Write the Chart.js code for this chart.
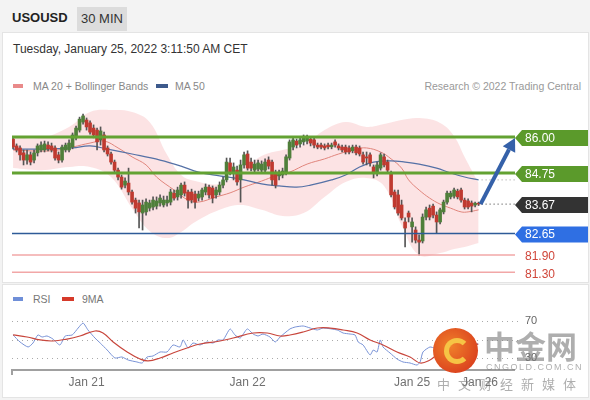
<!DOCTYPE html>
<html>
<head>
<meta charset="utf-8">
<script src="https://cdn.jsdelivr.net/npm/chart.js@4.4.1/dist/chart.umd.min.js"></script>
<style>
  body { margin: 0; width: 590px; height: 400px; background: #f3f3f3; font-family: "Liberation Sans", Arial, sans-serif; position: relative; overflow: hidden; }
  .abs { position: absolute; white-space: nowrap; }
  .panel { background: #fff; border: 1px solid #e4e4e4; }
  .sym { left: 12px; top: 10px; font-weight: bold; font-size: 13px; color: #222; }
  .tf { left: 77px; top: 7px; width: 50px; height: 24px; line-height: 24px; background: #dcdcdc; font-size: 13px; color: #333; text-align: center; }
  .date { left: 13px; top: 42px; font-size: 12px; color: #333; }
  .leg { font-size: 10.5px; color: #888; }
  .sw { width: 10px; height: 4px; }
  .wm { color: rgba(120,120,120,0.6); font-family: "Noto Sans CJK SC", sans-serif; }
</style>
</head>
<body>
<div class="abs panel" style="left:2px;top:32px;width:585px;height:249px"></div>
<div class="abs panel" style="left:2px;top:284px;width:585px;height:112px"></div>

<div class="abs sym">USOUSD</div>
<div class="abs tf">30 MIN</div>
<div class="abs date">Tuesday, January 25, 2022 3:11:50 AM CET</div>

<div class="abs sw" style="left:13px;top:84px;background:#e98a8a"></div>
<div class="abs leg" style="left:33px;top:80px">MA 20 + Bollinger Bands</div>
<div class="abs sw" style="left:156px;top:84px;width:12px;background:#3d5a8c"></div>
<div class="abs leg" style="left:175px;top:80px">MA 50</div>
<div class="abs leg" style="right:9px;top:80px;color:#999">Research © 2022 Trading Central</div>

<div class="abs sw" style="left:13px;top:297px;background:#6f8fd8"></div>
<div class="abs leg" style="left:33px;top:293px;color:#777">RSI</div>
<div class="abs sw" style="left:62px;top:297px;width:12px;background:#d63a2a"></div>
<div class="abs leg" style="left:82px;top:293px;color:#777">9MA</div>

<canvas id="priceChart" class="abs" style="left:0;top:100px" width="590" height="180"></canvas>
<canvas id="rsiChart" class="abs" style="left:0;top:290px" width="590" height="110"></canvas>

<!-- watermark -->
<div class="abs" style="left:433px;top:328px;width:45px;height:45px;border-radius:50%;background:radial-gradient(circle at 40% 40%, #f0802a, #d42e1a)"></div>
<div class="abs" style="left:444px;top:338px;width:16px;height:16px;border:5px solid #f6c445;border-right-color:transparent;border-radius:50%"></div>
<div class="abs wm" style="left:484px;top:322px;font-size:31px;font-weight:bold">中金网</div>
<div class="abs wm" style="left:486px;top:362px;font-size:9px;letter-spacing:1.5px;font-family:'Liberation Sans',Arial">CNGOLD.COM.CN</div>
<div class="abs wm" style="left:437px;top:374px;font-size:13px;letter-spacing:8px">中文财经新媒体</div>

<script>
'use strict';

// 30 min candles, oldest first
var opens = [
  85.93, 85.69, 85.62, 85.45, 85.20, 85.38, 85.20, 85.45, 85.55, 85.55,
  85.72, 85.69, 85.62, 85.38, 85.20, 85.55, 85.55, 85.65, 85.97, 86.24,
  86.52, 86.59, 86.49, 86.31, 86.24, 85.90, 86.07, 85.62, 85.41, 85.13,
  84.85, 84.61, 84.33, 84.40, 84.09, 83.81, 83.71, 83.36, 83.40, 83.53,
  83.57, 83.60, 83.71, 83.64, 83.71, 83.74, 84.05, 83.92, 83.99, 84.33,
  84.09, 84.09, 84.02, 83.88, 83.92, 84.09, 84.26, 84.23, 83.99, 84.09,
  84.33, 84.51, 85.10, 84.75, 84.85, 84.51, 85.03, 85.41, 85.13, 84.85,
  84.89, 84.85, 84.85, 85.20, 85.13, 84.78, 84.65, 84.68, 84.78, 85.27,
  85.65, 85.86, 85.76, 85.83, 85.86, 85.93, 85.90, 85.72, 85.72, 85.69,
  85.72, 85.66, 85.83, 85.69, 85.65, 85.65, 85.62, 85.52, 85.65, 85.62,
  85.38, 85.31, 85.38, 84.96, 84.75, 84.92, 85.31, 85.13, 84.75, 84.09,
  83.99, 83.64, 83.05, 83.36, 82.88, 82.77, 82.42, 82.39, 83.22, 83.53,
  83.60, 83.29, 83.05, 83.40, 83.74, 83.92, 83.95, 84.12, 84.16, 83.81,
  83.78, 83.71, 83.64, 83.70
];
var highs = [
  86.00, 85.76, 85.69, 85.55, 85.55, 85.48, 85.55, 85.76, 85.83, 85.86,
  85.83, 85.79, 85.69, 85.48, 85.72, 85.79, 85.90, 86.14, 86.38, 86.69,
  86.80, 86.66, 86.56, 86.42, 86.31, 86.35, 86.17, 85.69, 85.48, 85.20,
  84.92, 84.68, 84.58, 84.92, 84.16, 83.88, 83.81, 83.81, 83.85, 83.81,
  83.92, 83.92, 83.99, 83.95, 83.95, 84.19, 84.16, 84.26, 84.40, 84.44,
  84.16, 84.19, 84.12, 84.12, 84.23, 84.37, 84.33, 84.30, 84.26, 84.44,
  84.61, 85.27, 85.27, 85.10, 84.99, 85.20, 85.48, 85.52, 85.27, 85.20,
  85.20, 85.17, 85.24, 85.31, 85.20, 84.85, 84.85, 84.92, 85.38, 85.90,
  85.97, 85.93, 85.97, 86.07, 86.07, 86.00, 85.97, 85.79, 85.79, 85.76,
  85.79, 85.79, 85.90, 85.76, 85.72, 85.72, 85.69, 85.72, 85.72, 85.69,
  85.48, 85.48, 85.45, 85.03, 85.13, 85.45, 85.41, 85.20, 84.82, 84.16,
  84.16, 83.81, 83.19, 83.43, 83.19, 82.88, 82.60, 83.33, 83.57, 83.64,
  83.67, 83.40, 83.53, 83.81, 84.12, 84.12, 84.23, 84.19, 84.23, 83.88,
  83.85, 83.78, 83.74, 83.74
];
var lows = [
  85.59, 85.48, 85.20, 85.03, 85.06, 85.03, 85.10, 85.34, 85.48, 85.48,
  85.52, 85.48, 85.20, 85.10, 85.13, 85.48, 85.48, 85.59, 85.90, 86.17,
  86.45, 86.24, 86.10, 85.97, 85.55, 85.72, 85.48, 85.34, 85.06, 84.78,
  84.51, 84.19, 84.23, 83.99, 83.67, 83.36, 82.84, 82.77, 83.29, 83.43,
  83.47, 83.50, 83.60, 83.57, 83.60, 83.64, 83.81, 83.81, 83.88, 83.95,
  83.53, 83.71, 83.53, 83.78, 83.81, 83.99, 83.88, 83.71, 83.88, 83.99,
  84.23, 84.44, 84.68, 84.51, 84.33, 83.74, 84.92, 84.85, 84.82, 84.78,
  84.82, 84.78, 84.78, 84.89, 84.33, 84.23, 84.51, 84.58, 84.68, 85.20,
  85.55, 85.62, 85.65, 85.72, 85.76, 85.69, 85.62, 85.59, 85.59, 85.55,
  85.59, 85.59, 85.65, 85.55, 85.48, 85.41, 85.41, 85.45, 85.38, 85.34,
  85.06, 85.03, 84.99, 84.58, 84.65, 84.85, 84.96, 84.78, 83.92, 83.50,
  83.29, 83.12, 82.18, 83.05, 82.35, 82.32, 81.90, 82.32, 83.12, 83.12,
  83.19, 82.67, 82.98, 83.33, 83.67, 83.85, 83.88, 83.85, 83.74, 83.50,
  83.50, 83.40, 83.57, 83.62
];
var closes = [
  85.65, 85.55, 85.38, 85.20, 85.38, 85.13, 85.45, 85.69, 85.72, 85.76,
  85.59, 85.55, 85.27, 85.20, 85.65, 85.72, 85.79, 86.07, 86.31, 86.62,
  86.73, 86.35, 86.17, 86.07, 85.83, 86.21, 85.55, 85.41, 85.13, 84.85,
  84.61, 84.26, 84.47, 84.09, 83.74, 83.53, 83.40, 83.64, 83.74, 83.71,
  83.81, 83.78, 83.88, 83.81, 83.81, 84.09, 83.88, 84.16, 84.33, 84.05,
  83.81, 83.81, 83.74, 84.02, 84.16, 84.26, 83.99, 83.88, 84.16, 84.33,
  84.51, 85.13, 84.78, 84.96, 84.44, 85.03, 85.38, 84.92, 84.92, 85.06,
  85.10, 85.06, 85.13, 84.99, 84.51, 84.33, 84.78, 84.82, 85.31, 85.83,
  85.90, 85.72, 85.90, 86.00, 86.00, 85.79, 85.72, 85.65, 85.65, 85.62,
  85.66, 85.72, 85.72, 85.62, 85.55, 85.48, 85.48, 85.65, 85.45, 85.41,
  85.13, 85.27, 85.10, 84.75, 85.03, 85.38, 85.03, 84.85, 83.99, 83.57,
  83.36, 83.19, 82.84, 83.22, 83.05, 82.42, 82.35, 83.22, 83.47, 83.22,
  83.29, 83.05, 83.47, 83.74, 84.05, 84.05, 84.16, 83.92, 83.81, 83.57,
  83.57, 83.60, 83.70, 83.67
];

// moving averages at a few candles
var ma20Idx = [0, 8, 13, 17, 22, 26, 30, 34, 38, 41, 46, 50, 53, 58, 62, 66, 71, 75, 79, 84, 89, 93, 98, 101, 105, 108, 111, 113, 116, 119, 122, 125, 128, 130, 133];
var ma20 = [85.55, 85.51, 85.55, 85.65, 85.79, 85.86, 85.62, 85.31, 85.03, 84.61, 84.16, 83.81, 83.74, 83.92, 84.06, 84.26, 84.47, 84.65, 84.78, 85.06, 85.24, 85.41, 85.58, 85.62, 85.48, 85.24, 84.92, 84.51, 84.16, 83.88, 83.67, 83.53, 83.40, 83.40, 83.47];
var ma50Idx = [0, 8, 17, 22, 27, 34, 42, 48, 53, 59, 65, 71, 76, 81, 85, 91, 95, 99, 103, 108, 112, 116, 121, 125, 129, 133];
var ma50 = [85.58, 85.58, 85.62, 85.69, 85.58, 85.41, 85.20, 84.99, 84.78, 84.65, 84.54, 84.37, 84.30, 84.26, 84.33, 84.51, 84.68, 84.96, 85.13, 85.17, 85.13, 85.06, 84.92, 84.75, 84.61, 84.51];
var bandIdx = [0, 8, 16, 22, 28, 34, 39, 44, 48, 52, 59, 65, 71, 77, 83, 89, 95, 101, 106, 111, 116, 122, 126, 129, 133];
var bandUpper = [86.00, 85.97, 86.35, 86.87, 86.94, 86.87, 86.52, 85.38, 84.68, 84.47, 84.37, 84.78, 85.34, 85.55, 85.72, 86.24, 86.52, 86.35, 86.45, 86.59, 86.66, 86.49, 86.03, 85.31, 84.40];
var bandLower = [84.92, 84.85, 84.96, 84.96, 84.61, 83.53, 82.74, 82.49, 82.70, 83.05, 83.47, 83.64, 83.47, 83.26, 83.36, 83.92, 84.44, 84.58, 84.30, 82.94, 81.90, 81.97, 82.11, 82.18, 82.32];

// key levels
var resistances = [86.00, 84.75];
var pivot = 82.65;
var supports = [81.90, 81.30];

// RSI panel
var rsiIdx = [0, 2, 4.3, 5.7, 7.1, 8.3, 9.7, 11.4, 13.4, 14.9, 16.9, 18.6, 20, 21.4, 23.4, 24.9, 26.9, 29.1, 31.1, 32.9, 35.4, 36.9, 38.3, 40, 42, 44, 45.7, 47.7, 48.6, 50, 51.4, 53.4, 55.4, 57.1, 58.6, 60, 62, 63.4, 64.9, 66.9, 68.6, 70, 71.4, 73.4, 74.9, 76.3, 79.1, 80.6, 82.9, 84.9, 86.9, 88.6, 92.6, 94.3, 96.3, 97.7, 98.6, 100, 102, 102.9, 104, 104.9, 105.7, 107.7, 109.7, 111.4, 113.4, 115.4, 116.3, 117.1, 119.1, 120.6, 122.6, 124.9, 127.1, 129.1, 131.1, 132.9];
var rsi = [54.9, 47.3, 41.9, 46.2, 54.9, 52.7, 53.8, 50.5, 44.1, 53.8, 54.9, 62.4, 67.8, 60.3, 51.6, 46.2, 38.6, 30.0, 31.1, 27.8, 25.7, 24.6, 31.1, 32.2, 36.5, 36.5, 44.1, 41.9, 49.5, 40.8, 46.2, 44.1, 47.3, 46.2, 49.5, 49.5, 61.4, 54.9, 51.6, 61.4, 55.9, 53.8, 55.9, 52.7, 47.3, 52.7, 61.4, 63.5, 64.6, 62.4, 60.3, 62.4, 60.3, 57.0, 55.9, 54.9, 47.3, 44.1, 33.2, 38.6, 36.5, 49.5, 41.9, 35.4, 28.9, 25.7, 24.6, 22.4, 25.7, 36.5, 41.9, 40.8, 46.2, 53.8, 54.9, 49.5, 46.2, 45.1];
var rsiMaIdx = [0, 4, 7.7, 11.4, 15.4, 19.1, 23.4, 25.7, 28.6, 32.6, 36.3, 38.6, 42, 45.7, 49.7, 53.4, 59.1, 62.9, 68.6, 72.6, 76.3, 79.1, 82.9, 86.9, 90.6, 94.3, 98.3, 102, 105.7, 109.7, 113.4, 116.3, 119.1, 121.1, 124.9, 129.1, 132.9];
var rsiMa = [54.9, 52.7, 49.5, 48.4, 50.5, 53.8, 59.2, 57.0, 47.3, 36.5, 28.9, 26.8, 30.0, 35.4, 40.8, 45.1, 48.4, 51.6, 57.0, 57.0, 53.8, 54.9, 58.1, 62.4, 62.4, 60.3, 57.0, 49.5, 44.1, 36.5, 31.1, 24.6, 27.8, 33.2, 38.6, 43.0, 45.1];
var rsiLevels = [70, 50, 30];
var rsiLabels = [70, 30];

// x axis
var dayLabels = ['Jan 21', 'Jan 22', 'Jan 25', 'Jan 26'];
var dayIdx = [21, 67, 114, 133.4];

var GREEN = '#4f7f3a';
var RED = '#bf3a30';

function pts(xs, ys) {
  return xs.map(function (x, i) { return { x: x, y: ys[i] }; });
}

var xScale = { type: 'linear', display: false, min: -0.3, max: 143.4, offset: false };
var pad = { left: 12, right: 75 };

// tag on the right, pointing left
function tag(ctx, x0, x1, yy, color, text) {
  ctx.beginPath();
  ctx.moveTo(x0, yy);
  ctx.lineTo(x0 + 7, yy - 8);
  ctx.lineTo(x1, yy - 8);
  ctx.lineTo(x1, yy + 8);
  ctx.lineTo(x0 + 7, yy + 8);
  ctx.closePath();
  ctx.fillStyle = color;
  ctx.fill();
  ctx.fillStyle = '#fff';
  ctx.fillText(text, x0 + 10, yy + 0.5);
}

var levelsPlugin = {
  id: 'levels',
  afterDatasetsDraw: function (chart) {
    var ctx = chart.ctx, a = chart.chartArea, x = chart.scales.x, y = chart.scales.y;
    var last = closes.length - 1;
    var lastX = x.getPixelForValue(last);
    ctx.save();
    ctx.font = '12px "Liberation Sans", Arial';
    ctx.textBaseline = 'middle';

    // dotted extensions
    ctx.setLineDash([1, 3]);
    ctx.lineWidth = 1;
    ctx.strokeStyle = '#999';
    var m = y.getPixelForValue(ma50[ma50.length - 1]);
    ctx.beginPath(); ctx.moveTo(lastX + 3, m); ctx.lineTo(a.right, m); ctx.stroke();
    ctx.strokeStyle = '#333';
    var c = y.getPixelForValue(closes[last]);
    ctx.beginPath(); ctx.moveTo(lastX + 3, c); ctx.lineTo(a.right, c); ctx.stroke();
    ctx.setLineDash([]);

    // resistances
    resistances.forEach(function (v) {
      var p = y.getPixelForValue(v);
      ctx.strokeStyle = '#63a232';
      ctx.lineWidth = 3;
      ctx.beginPath(); ctx.moveTo(a.left, p); ctx.lineTo(a.right, p); ctx.stroke();
      tag(ctx, a.right, 588, p + 1, '#5b9a2b', v.toFixed(2));
    });

    // pivot
    var pp = y.getPixelForValue(pivot);
    ctx.strokeStyle = '#2e5b98';
    ctx.lineWidth = 1.5;
    ctx.beginPath(); ctx.moveTo(a.left, pp); ctx.lineTo(a.right, pp); ctx.stroke();
    tag(ctx, a.right, 588, pp + 1, '#2f6fe3', pivot.toFixed(2));

    // supports
    supports.forEach(function (v) {
      var p = y.getPixelForValue(v);
      ctx.strokeStyle = '#f2a7a7';
      ctx.lineWidth = 1.5;
      ctx.beginPath(); ctx.moveTo(a.left, p); ctx.lineTo(a.right, p); ctx.stroke();
      ctx.fillStyle = '#d0463a';
      ctx.fillText(v.toFixed(2), a.right + 10, p + 2);
    });

    // last price
    tag(ctx, a.right, 588, c + 1, '#333333', closes[last].toFixed(2));

    // arrow to the first target
    var tx = a.right, ty = y.getPixelForValue(resistances[0]) + 1;
    var sx = lastX + 2, sy = c;
    var ang = Math.atan2(ty - sy, tx - sx);
    var hx = tx - 13 * Math.cos(ang), hy = ty - 13 * Math.sin(ang);
    ctx.strokeStyle = '#3561a9';
    ctx.fillStyle = '#3561a9';
    ctx.lineWidth = 4;
    ctx.beginPath(); ctx.moveTo(sx, sy); ctx.lineTo(hx, hy); ctx.stroke();
    ctx.beginPath();
    ctx.moveTo(tx, ty);
    ctx.lineTo(hx + 7 * Math.sin(ang), hy - 7 * Math.cos(ang));
    ctx.lineTo(hx - 7 * Math.sin(ang), hy + 7 * Math.cos(ang));
    ctx.closePath();
    ctx.fill();
    ctx.restore();
  }
};

var wicks = closes.map(function (v, i) { return { x: i, y: [lows[i], highs[i]] }; });
var bodies = closes.map(function (v, i) { return { x: i, y: [opens[i], v] }; });
var bodyColors = closes.map(function (v, i) { return v >= opens[i] ? GREEN : RED; });

new Chart(document.getElementById('priceChart'), {
  type: 'bar',
  data: {
    datasets: [
      { type: 'line', data: pts(bandIdx, bandUpper), borderColor: 'transparent', borderWidth: 0, pointRadius: 0, tension: 0.4, fill: false, order: 4 },
      { type: 'line', data: pts(bandIdx, bandLower), borderColor: 'transparent', borderWidth: 0, pointRadius: 0, tension: 0.4, fill: '-1', backgroundColor: 'rgba(250, 200, 202, 0.5)', order: 4 },
      { type: 'line', data: pts(ma50Idx, ma50), borderColor: '#5571a6', borderWidth: 1.2, pointRadius: 0, tension: 0.4, order: 3 },
      { type: 'line', data: pts(ma20Idx, ma20), borderColor: '#e0857c', borderWidth: 1, pointRadius: 0, tension: 0.4, order: 3 },
      { data: wicks, backgroundColor: '#555', barThickness: 1, grouped: false, order: 2 },
      { data: bodies, backgroundColor: bodyColors, barThickness: 3, grouped: false, order: 1 }
    ]
  },
  options: {
    responsive: false,
    animation: false,
    events: [],
    layout: { padding: { left: pad.left, right: pad.right, top: 0, bottom: 0 } },
    scales: {
      x: xScale,
      y: { type: 'linear', display: false, min: 81.035, max: 87.285 }
    },
    plugins: { legend: { display: false }, tooltip: { enabled: false } }
  },
  plugins: [levelsPlugin]
});

var rsiPlugin = {
  id: 'rsiGuides',
  beforeDatasetsDraw: function (chart) {
    var ctx = chart.ctx, a = chart.chartArea, y = chart.scales.y;
    ctx.save();
    ctx.setLineDash([1, 4]);
    ctx.strokeStyle = '#aaa';
    ctx.lineWidth = 1;
    rsiLevels.forEach(function (v) {
      var p = Math.round(y.getPixelForValue(v)) + 0.5;
      ctx.beginPath(); ctx.moveTo(a.left, p); ctx.lineTo(a.right + 5, p); ctx.stroke();
    });
    ctx.restore();
  },
  afterDatasetsDraw: function (chart) {
    var ctx = chart.ctx, a = chart.chartArea, x = chart.scales.x, y = chart.scales.y;
    ctx.save();
    ctx.font = '11px "Liberation Sans", Arial';
    ctx.fillStyle = '#666';
    ctx.textBaseline = 'middle';
    rsiLabels.forEach(function (v) {
      ctx.fillText(String(v), a.right + 10, y.getPixelForValue(v));
    });
    // x axis
    ctx.strokeStyle = '#a0a0a0';
    ctx.lineWidth = 2;
    ctx.beginPath();
    ctx.moveTo(a.left, a.bottom + 5);
    ctx.lineTo(a.left, a.bottom);
    ctx.lineTo(a.right, a.bottom);
    ctx.stroke();
    ctx.font = '12px "Liberation Sans", Arial';
    ctx.fillStyle = '#707070';
    ctx.textAlign = 'center';
    dayLabels.forEach(function (lbl, i) {
      ctx.fillText(lbl, x.getPixelForValue(dayIdx[i]), a.bottom + 13);
    });
    ctx.restore();
  }
};

new Chart(document.getElementById('rsiChart'), {
  type: 'line',
  data: {
    datasets: [
      { data: pts(rsiMaIdx, rsiMa), borderColor: '#c8463c', borderWidth: 1.2, pointRadius: 0, tension: 0.4 },
      { data: pts(rsiIdx, rsi), borderColor: '#7892d6', borderWidth: 1, pointRadius: 0, tension: 0.2 }
    ]
  },
  options: {
    responsive: false,
    animation: false,
    events: [],
    layout: { padding: { left: pad.left, right: pad.right, top: 10, bottom: 30 } },
    scales: {
      x: xScale,
      y: { type: 'linear', display: false, min: 17.03, max: 92.7 }
    },
    plugins: { legend: { display: false }, tooltip: { enabled: false } }
  },
  plugins: [rsiPlugin]
});
</script>
</body>
</html>
